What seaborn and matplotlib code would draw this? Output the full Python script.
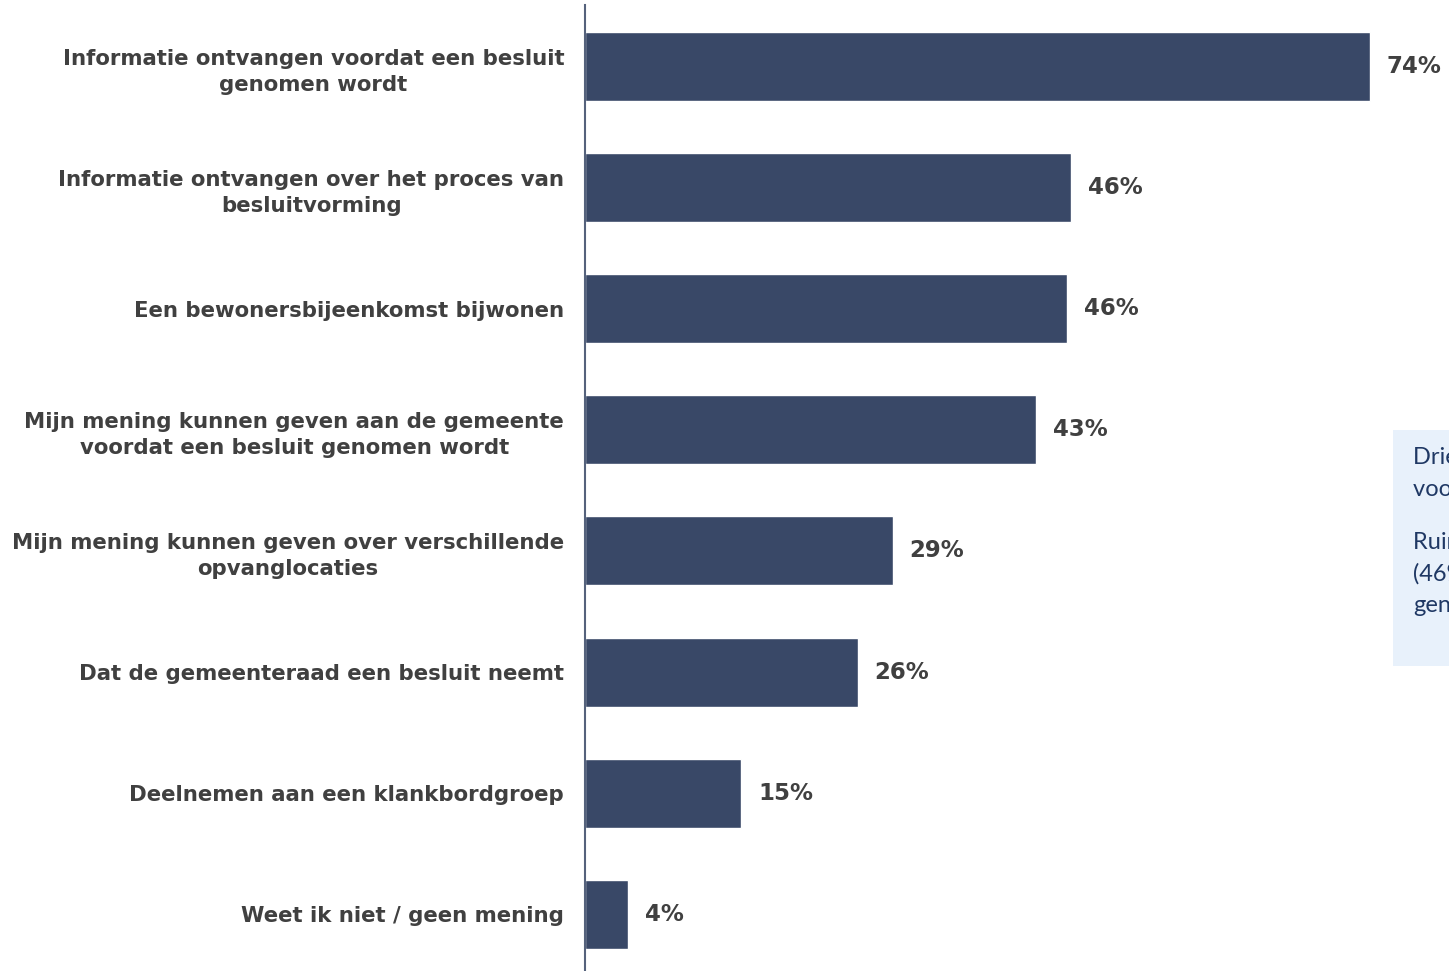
import matplotlib
matplotlib.use("Agg")
import matplotlib.pyplot as plt
import seaborn as sns
import pandas as pd
from matplotlib.patches import Rectangle

categories = [
    "Informatie ontvangen voordat een besluit\ngenomen wordt",
    "Informatie ontvangen over het proces van\nbesluitvorming",
    "Een bewonersbijeenkomst bijwonen",
    "Mijn mening kunnen geven aan de gemeente\nvoordat een besluit genomen wordt",
    "Mijn mening kunnen geven over verschillende\nopvanglocaties",
    "Dat de gemeenteraad een besluit neemt",
    "Deelnemen aan een klankbordgroep",
    "Weet ik niet / geen mening",
]
values = [74.0, 45.8, 45.4, 42.5, 29.0, 25.7, 14.7, 4.1]
value_labels = ["74%", "46%", "46%", "43%", "29%", "26%", "15%", "4%"]

box_lines = [
    ("Driekwart (74%) wil graag informatie ontvangen", 457),
    ("voordat een besluit genomen wordt.", 489),
    ("Ruim vier op de tien wil informatie over het proces", 542),
    ("(46%) of wil een bewonersbijeenkomst bijwonen", 574),
    ("genoemd.", 606),
]

df = pd.DataFrame({"cat": categories, "val": values})

sns.set_theme(style="white")
plt.rcParams["font.family"] = ["DejaVu Sans"]

W, H = 1449, 971
fig = plt.figure(figsize=(W / 100, H / 100), dpi=100)
fig.patch.set_facecolor("white")

ax = fig.add_axes([585 / W, 0, (W - 585) / W, 966 / H])

bar_color = "#394867"
sns.barplot(data=df, x="val", y="cat", color=bar_color, width=0.57,
            ax=ax, orient="h", saturation=1)

scale = (1370 - 585) / 74.0
ax.set_xlim(0, (W - 585) / scale)
ax.set_ylim(7.47, -0.51)
ax.set_xlabel("")
ax.set_ylabel("")
ax.set_xticks([])
ax.tick_params(axis="y", length=0, pad=15)
for t in ax.get_yticklabels():
    t.set_fontsize(15.3)
    t.set_fontweight("bold")
    t.set_color("#404040")
    t.set_multialignment("center")
    t.set_linespacing(1.4)

for s in ["top", "right", "bottom"]:
    ax.spines[s].set_visible(False)
ax.spines["left"].set_color("#55627c")
ax.spines["left"].set_linewidth(1.5)

for i, (v, lab) in enumerate(zip(values, value_labels)):
    ax.text(v + 17 / scale, i, lab, va="center", ha="left",
            fontsize=16.5, fontweight="bold", color="#404040")

fig.patches.append(Rectangle((1393 / W, (H - 666) / H), (W - 1393) / W, 236 / H,
                             transform=fig.transFigure, facecolor="#e8f1fb",
                             edgecolor="none", zorder=0))
for txt, y in box_lines:
    fig.text(1413 / W, 1 - y / H, txt, ha="left", va="center",
             fontsize=17, color="#1f3864", family=["Lato", "DejaVu Sans"])

fig.savefig("out.png", dpi=100)
